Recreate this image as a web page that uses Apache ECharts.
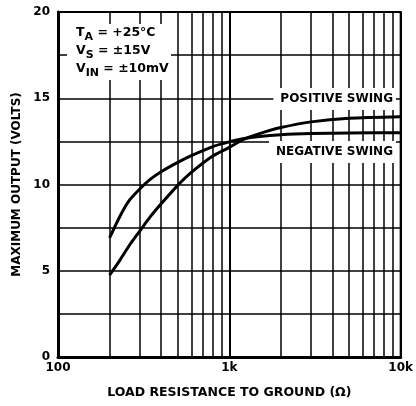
<!DOCTYPE html>
<html>
<head>
<meta charset="utf-8">
<script src="https://cdn.jsdelivr.net/npm/echarts@6/dist/echarts.min.js"></script>
<style>
  html, body { margin: 0; background: #fff; }
  #chart { width: 416px; height: 406px; }
</style>
</head>
<body>
<div id="chart"></div>
<script>
// load resistance (ohms) and maximum output (volts)
const R_POS = [200, 230, 260, 300, 345, 400, 500, 600, 800, 1000, 1200, 1500, 2000, 3000, 5000, 10000]
const V_POS = [4.75, 5.62, 6.45, 7.3, 8.12, 8.88, 9.95, 10.7, 11.65, 12.15, 12.6, 12.95, 13.3, 13.63, 13.84, 13.93]
const R_NEG = [200, 230, 260, 300, 345, 400, 500, 600, 800, 1000, 1200, 1500, 2000, 3000, 5000, 10000]
const V_NEG = [6.9, 8.16, 9.06, 9.74, 10.3, 10.74, 11.28, 11.67, 12.2, 12.47, 12.65, 12.78, 12.88, 12.95, 12.99, 13.0]

// decade labels and in-between grid lines of the log axis
const X_TICK_TEXT = { 100: '100', 1000: '1k', 10000: '10k' }
const X_MINOR = [200, 300, 400, 500, 600, 700, 800, 900, 2000, 3000, 4000, 5000, 6000, 7000, 8000, 9000]
const Y_LABELLED = [0, 5, 10, 15, 20]

const FONT = 'DejaVu Sans'
const INK = '#000'
const pairs = (xs, ys) => xs.map((x, i) => [x, ys[i]])

const chart = echarts.init(document.getElementById('chart'))

/* 角标用富文本:下标 token 加上内边距整体下移 */
const sub = {
  b: { fontFamily: FONT, fontWeight: 'bold', fontSize: 12.5, color: INK },
  s: { fontFamily: FONT, fontWeight: 'bold', fontSize: 11, color: INK, padding: [9, 0, 0, 0] },
}
const condLine = (top, text) => ({
  type: 'text', left: 76, top, z: 101,
  style: { text, rich: sub, fill: INK },
})
const swingLabel = (y, text) => ({
  type: 'text', x: 396, y, z: 101,
  style: {
    text, fill: INK, align: 'right', verticalAlign: 'middle',
    font: `bold 12px "${FONT}"`, backgroundColor: '#fff', padding: [5, 3, 5, 7],
  },
})

const curve = (name, xs, ys) => ({
  name, type: 'line', data: pairs(xs, ys), smooth: 0.25,
  symbol: 'none', z: 5, lineStyle: { color: INK, width: 3 },
})

chart.setOption({
  animation: false,
  grid: { left: 58, right: 12, top: 12, bottom: 49, show: true, borderColor: INK, borderWidth: 2 },
  xAxis: {
    type: 'log', logBase: 10, min: 100, max: 10000,
    name: 'LOAD RESISTANCE TO GROUND (Ω)', nameLocation: 'middle', nameGap: 29,
    nameTextStyle: { color: INK, fontFamily: FONT, fontWeight: 'bold', fontSize: 12.5 },
    axisLine: { show: true, lineStyle: { color: INK, width: 3 } },
    axisTick: { show: false },
    axisLabel: { color: INK, fontFamily: FONT, fontWeight: 'bold', fontSize: 12, margin: 5,
      formatter: v => X_TICK_TEXT[Math.round(v)] || '' },
    splitLine: { show: true, lineStyle: { color: INK, width: 2 } },
  },
  yAxis: {
    type: 'value', min: 0, max: 20, interval: 2.5,
    name: 'MAXIMUM OUTPUT (VOLTS)', nameLocation: 'middle', nameGap: 34,
    nameTextStyle: { color: INK, fontFamily: FONT, fontWeight: 'bold', fontSize: 12 },
    axisLine: { show: true, lineStyle: { color: INK, width: 3 } },
    axisTick: { show: false },
    axisLabel: { color: INK, fontFamily: FONT, fontWeight: 'bold', fontSize: 12, margin: 8,
      formatter: v => (Y_LABELLED.includes(v) ? String(v) : '') },
    splitLine: { show: true, lineStyle: { color: INK, width: 1.5 } },
  },
  series: [
    { // 对数轴中间的竖向网格线
      type: 'line', data: [], z: 1, silent: true,
      markLine: {
        silent: true, symbol: 'none', label: { show: false },
        lineStyle: { color: INK, width: 1.5, type: 'solid' },
        data: X_MINOR.map(v => ({ xAxis: v })),
      },
    },
    curve('POSITIVE SWING', R_POS, V_POS),
    curve('NEGATIVE SWING', R_NEG, V_NEG),
  ],
  graphic: [
    { type: 'rect', z: 100, shape: { x: 67, y: 24, width: 104, height: 56 }, style: { fill: '#fff' } },
    condLine(26, '{b|T}{s|A}{b| = +25°C}'),
    condLine(44, '{b|V}{s|S}{b| = ±15V}'),
    condLine(62, '{b|V}{s|IN}{b| = ±10mV}'),
    swingLabel(99, 'POSITIVE SWING'),
    swingLabel(152, 'NEGATIVE SWING'),
  ],
})
</script>
</body>
</html>
